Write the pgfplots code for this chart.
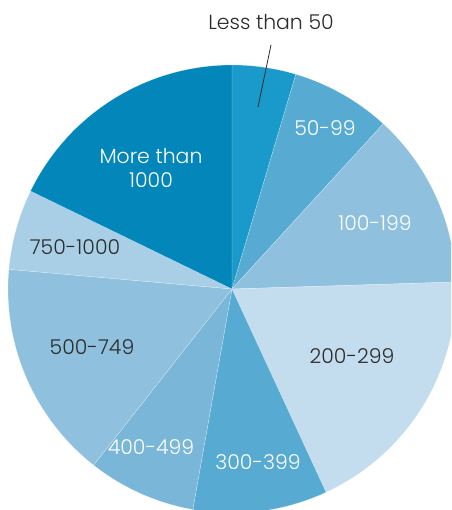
\documentclass[border=0pt]{standalone}
\usepackage{pgfplots}
\pgfplotsset{compat=1.18}
\usepackage{fontspec}
\setmainfont{Poppins Light}
\definecolor{cA}{HTML}{1A9ACA}
\definecolor{cB}{HTML}{57ABD2}
\definecolor{cC}{HTML}{8FC0DD}
\definecolor{cD}{HTML}{C4DDEE}
\definecolor{cE}{HTML}{57ABD2}
\definecolor{cF}{HTML}{7AB6D8}
\definecolor{cG}{HTML}{8FC0DD}
\definecolor{cH}{HTML}{A9CFE6}
\definecolor{cI}{HTML}{0387BA}
\definecolor{txt}{HTML}{2B2B2B}
% slice shares in percent, clockwise from 12 o'clock
\def\vA{4.6}\def\vB{7.2}\def\vC{12.7}\def\vD{18.6}\def\vE{9.7}
\def\vF{7.8}\def\vG{15.8}\def\vH{5.8}\def\vI{17.8}
\pgfmathsetmacro\aA{0}
\pgfmathsetmacro\aB{\aA+3.6*\vA}
\pgfmathsetmacro\aC{\aB+3.6*\vB}
\pgfmathsetmacro\aD{\aC+3.6*\vC}
\pgfmathsetmacro\aE{\aD+3.6*\vD}
\pgfmathsetmacro\aF{\aE+3.6*\vE}
\pgfmathsetmacro\aG{\aF+3.6*\vF}
\pgfmathsetmacro\aH{\aG+3.6*\vG}
\pgfmathsetmacro\aI{\aH+3.6*\vH}
\pgfmathsetmacro\aJ{\aI+3.6*\vI}
\def\cx{232}\def\cy{221}\def\R{224}
\newcommand\slice[3]{%
  \addplot[fill=#3, draw=white, draw opacity=0.5, line width=0.3pt, domain=#1:#2, samples=80]
    ({\cx+\R*sin(x)},{\cy+\R*cos(x)}) -- (axis cs:\cx,\cy) -- cycle;}
\tikzset{lbl/.style={font=\fontsize{20.5}{25}\selectfont, inner sep=0pt}}
\begin{document}
\begin{tikzpicture}
\begin{axis}[
  width=451bp, height=510bp, scale only axis,
  xmin=0, xmax=451, ymin=0, ymax=510,
  hide axis,
]
\slice{\aA}{\aB}{cA}
\slice{\aB}{\aC}{cB}
\slice{\aC}{\aD}{cC}
\slice{\aD}{\aE}{cD}
\slice{\aE}{\aF}{cE}
\slice{\aF}{\aG}{cF}
\slice{\aG}{\aH}{cG}
\slice{\aH}{\aI}{cH}
\slice{\aI}{\aJ}{cI}
\addplot[txt, line width=0.8pt] coordinates {(271,465) (258,403)};
\node[lbl, txt] at (axis cs:271,488) {Less than 50};
\node[lbl, white] at (axis cs:325,382) {50-99};
\node[lbl, white] at (axis cs:375,287) {100-199};
\node[lbl, white, align=center] at (axis cs:151,342) {More than\\1000};
\node[lbl, txt] at (axis cs:75,263) {750-1000};
\node[lbl, txt] at (axis cs:92,163) {500-749};
\node[lbl, txt] at (axis cs:352,154) {200-299};
\node[lbl, white] at (axis cs:258,48) {300-399};
\node[lbl, white] at (axis cs:151,63) {400-499};
\end{axis}
\useasboundingbox (current axis.south west) rectangle (current axis.north east);
\end{tikzpicture}
\end{document}
